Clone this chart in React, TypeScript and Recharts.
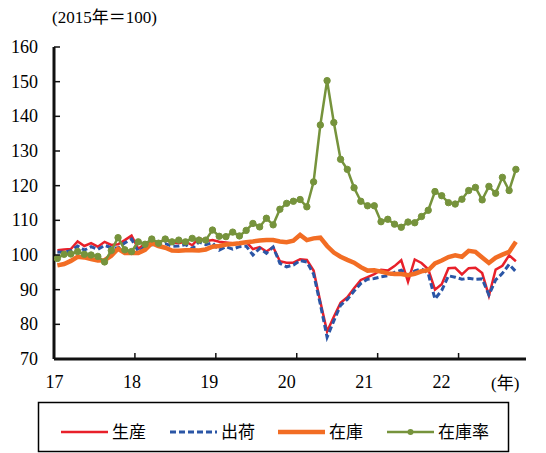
import React from "react";
import { LineChart, Line, XAxis, YAxis } from "recharts";

// monthly, Jan 2017 - Sep 2022 (2015=100)
const production = [
  101.4, 101.6, 101.7, 103.9, 102.6, 103.4, 102.4, 103.8, 102.9, 103.1, 104.3, 105.6,
  101.8, 103.2, 104.1, 103.7, 104.4, 103.6, 103.4, 103.9, 102.8, 104.9, 104.0, 104.3,
  103.8, 103.6, 103.4, 103.3, 103.8, 101.7, 102.3, 101.0, 102.3, 98.2, 97.8, 97.8,
  98.8, 98.6, 95.5, 86.5, 77.9, 82.2, 86.2, 87.8, 90.4, 92.8, 93.6, 94.5,
  95.7, 95.5, 96.8, 98.5, 92.3, 98.7, 97.7, 95.9, 90.0, 91.6, 96.2, 96.3,
  94.4, 96.2, 96.3, 94.8, 88.2, 95.8, 96.9, 99.9, 98.2,
];
const shipments = [
  100.9, 100.8, 101.2, 102.6, 101.4, 102.4, 101.6, 102.8, 102.1, 102.0, 103.5, 104.6,
  101.0, 102.3, 103.0, 102.6, 103.3, 102.5, 102.6, 103.0, 101.8, 103.8, 103.0, 103.5,
  101.4, 102.4, 101.7, 102.4, 102.6, 100.0, 101.9, 100.5, 102.3, 97.6, 96.6, 97.1,
  98.4, 98.0, 94.5, 85.8, 76.3, 81.0, 85.5, 87.2, 89.6, 91.8, 93.0, 93.2,
  93.7, 94.0, 95.0, 95.6, 94.1, 95.4, 96.0, 94.7, 87.3, 89.8, 94.0, 93.6,
  93.0, 93.3, 93.0, 93.1, 88.5, 92.8, 94.7, 97.3, 95.2,
];
const inventory = [
  97.0, 97.4, 98.3, 99.5, 99.3, 98.8, 98.4, 98.5, 99.8, 101.8, 100.6, 100.6,
  100.6, 101.5, 103.4, 102.6, 102.1, 101.3, 101.2, 101.4, 101.4, 101.3, 101.6, 102.4,
  102.6, 103.0, 103.2, 103.4, 103.7, 103.9, 104.2, 104.3, 104.3, 103.9, 103.7, 104.1,
  105.8, 104.3, 104.8, 105.0, 102.6, 100.7, 99.5, 98.6, 97.8, 96.5, 95.5, 95.6,
  95.2, 94.7, 94.5, 94.5, 94.2, 94.6, 95.3, 95.6, 97.6, 98.4, 99.4, 99.9,
  99.5, 101.2, 100.9, 99.3, 97.7, 99.2, 100.1, 100.9, 103.8,
];
const inventoryRatio = [
  99.0, 100.2, 100.3, 101.0, 100.2, 100.0, 99.6, 98.0, 101.3, 105.0, 101.5, 101.0,
  103.8, 103.1, 104.6, 103.4, 104.6, 103.8, 104.3, 103.8, 104.8, 104.3, 104.3, 107.2,
  105.4, 105.3, 106.6, 105.5, 107.1, 109.1, 108.1, 110.6, 108.7, 113.2, 114.9, 115.5,
  116.0, 113.9, 121.1, 137.5, 150.3, 138.2, 127.6, 124.7, 119.4, 115.5, 114.2, 114.2,
  109.6, 110.3, 108.9, 108.0, 109.5, 109.3, 111.1, 112.9, 118.3, 117.1, 115.1, 114.7,
  116.1, 118.6, 119.5, 115.9, 119.8, 117.8, 122.4, 118.6, 124.7,
];

const yearLabels = ["17", "18", "19", "20", "21", "22"];
const yearTicks = [0, 12, 24, 36, 48, 60];
const yTicks = [70, 80, 90, 100, 110, 120, 130, 140, 150, 160];

const data = production.map((v, i) => ({
  x: i + 0.5,
  production: v,
  shipments: shipments[i],
  inventory: inventory[i],
  inventoryRatio: inventoryRatio[i],
}));

const RED = "#e8202a";
const BLUE = "#2b56a6";
const ORANGE = "#f26d24";
const GREEN = "#76933c";
const FRAME = "#111";
const frameLine = { stroke: FRAME, strokeWidth: 3 };
const SERIF = '"Liberation Serif", "DejaVu Serif", "Noto Sans CJK JP", serif';
const JP = '"Noto Sans CJK JP", sans-serif';

const XTick = (props: any) => {
  const { x, y, index } = props;
  return (
    <g>
      <line x1={x} y1={y} x2={x} y2={y - 6} stroke={FRAME} strokeWidth={1.5} />
      <text x={x - index * 3.5 + 0.5} y={y + 29} textAnchor="middle" fontSize={18} fontFamily={SERIF} fill="#000">
        {yearLabels[index]}
      </text>
    </g>
  );
};

const YTick = (props: any) => {
  const { x, y, payload } = props;
  return (
    <g>
      <line x1={x} y1={y} x2={x + 6} y2={y} stroke={FRAME} strokeWidth={1.5} />
      <text x={x - 16} y={y + 6} textAnchor="end" fontSize={18} fontFamily={SERIF} fill="#000">
        {payload.value}
      </text>
    </g>
  );
};

const legendItems = [
  { name: "生産", color: RED, width: 2.5, dash: undefined, dot: false, x: 61 },
  { name: "出荷", color: BLUE, width: 3, dash: "6 3", dot: false, x: 170 },
  { name: "在庫", color: ORANGE, width: 4.5, dash: undefined, dot: false, x: 278 },
  { name: "在庫率", color: GREEN, width: 2.5, dash: undefined, dot: true, x: 387 },
];

export default function App() {
  return (
    <div style={{ position: "absolute", left: 0, top: 0, width: 546, height: 453, background: "#fff" }}>
      <LineChart
        width={546}
        height={453}
        data={data}
        margin={{ top: 47, right: 20, left: 0, bottom: 64 }}
      >
        <XAxis
          type="number"
          dataKey="x"
          domain={[0, 70]}
          ticks={yearTicks}
          interval={0}
          allowDataOverflow
          axisLine={frameLine}
          tickLine={false}
          tickSize={0}
          tickMargin={0}
          height={30}
          tick={<XTick />}
        />
        <XAxis
          xAxisId="top"
          orientation="top"
          type="number"
          dataKey="x"
          domain={[0, 70]}
          allowDataOverflow
          axisLine={frameLine}
          tick={false}
          tickLine={false}
          height={0}
        />
        <YAxis
          domain={[70, 160]}
          ticks={yTicks}
          interval={0}
          allowDataOverflow
          axisLine={frameLine}
          tickLine={false}
          tickSize={0}
          tickMargin={0}
          width={54}
          tick={<YTick />}
        />
        <YAxis
          yAxisId="right"
          orientation="right"
          domain={[70, 160]}
          allowDataOverflow
          axisLine={frameLine}
          tick={false}
          tickLine={false}
          width={0}
        />
        <Line dataKey="production" stroke={RED} strokeWidth={2.5} dot={false} isAnimationActive={false} />
        <Line dataKey="shipments" stroke={BLUE} strokeWidth={3} strokeDasharray="6 3" dot={false} isAnimationActive={false} />
        <Line dataKey="inventory" stroke={ORANGE} strokeWidth={4.5} dot={false} isAnimationActive={false} />
        <Line
          dataKey="inventoryRatio"
          stroke={GREEN}
          strokeWidth={2.5}
          dot={{ r: 3.2, fill: GREEN, stroke: GREEN, strokeWidth: 1 }}
          isAnimationActive={false}
        />
      </LineChart>
      <svg width={546} height={453} style={{ position: "absolute", left: 0, top: 0, pointerEvents: "none" }}>
        <text x={52} y={23} fontSize={17} fontFamily={SERIF} fill="#000">(2015年＝100)</text>
        <text x={491} y={389} fontSize={17} fontFamily={SERIF} fill="#000">(年)</text>
        <rect x={38.5} y={402.5} width={470} height={49} fill="#fff" stroke="#000" strokeWidth={1.5} />
        {legendItems.map((it) => (
          <g key={it.name}>
            <line x1={it.x} y1={432} x2={it.x + 47} y2={432} stroke={it.color} strokeWidth={it.width} strokeDasharray={it.dash} />
            {it.dot && <circle cx={it.x + 23.5} cy={432} r={3} fill={it.color} />}
            <text x={it.x + 51} y={438} fontSize={17} fontFamily={JP} fill="#000">{it.name}</text>
          </g>
        ))}
      </svg>
    </div>
  );
}
